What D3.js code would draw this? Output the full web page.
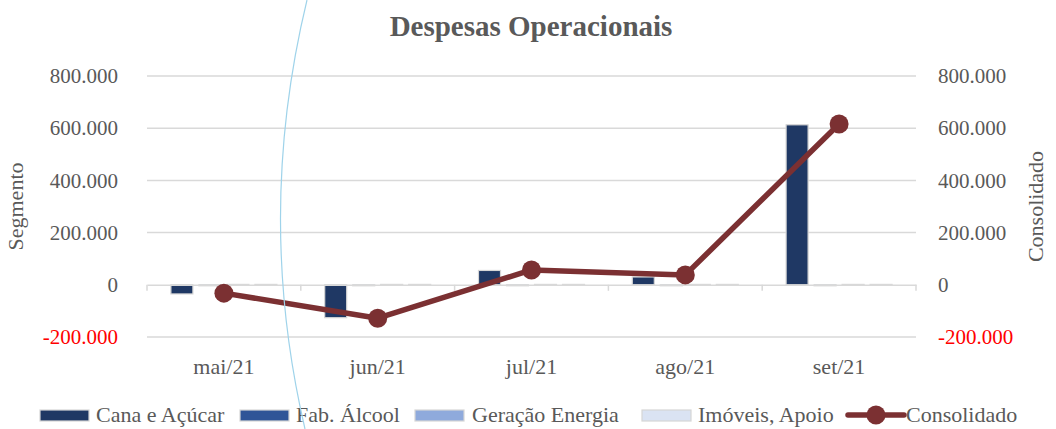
<!DOCTYPE html>
<html>
<head>
<meta charset="utf-8">
<script src="https://cdn.jsdelivr.net/npm/d3@7"></script>
<style>
  body { margin: 0; background: #fff; }
  text { font-family: "Liberation Serif", "DejaVu Serif", serif; }
</style>
</head>
<body>
<script>
// chart data
var months = ["mai/21", "jun/21", "jul/21", "ago/21", "set/21"];
var series = ["Cana e Açúcar", "Fab. Álcool", "Geração Energia", "Imóveis, Apoio"];
var canaAcucar = [-35000, -126000, 55000, 30000, 613000];
var fabAlcool = [0, 0, 0, 0, 0];
var geracaoEnergia = [1500, 1500, 1500, 1500, 1500];
var imoveisApoio = [1500, 1500, 1500, 1500, 1500];
var consolidado = [-32000, -128000, 57000, 38000, 616000];
var yTicks = [-200000, 0, 200000, 400000, 600000, 800000];

var seriesValues = [canaAcucar, fabAlcool, geracaoEnergia, imoveisApoio];
var colors = ["#1f3864", "#2f5597", "#8faadc", "#dae3f3"];
var lineColor = "#7b3032";

var W = 1056, H = 429;
var plot = {left: 147, right: 916, top: 76, bottom: 337};

var svg = d3.select("body").append("svg")
    .attr("width", W)
    .attr("height", H);

var x = d3.scaleBand().domain(months).range([plot.left, plot.right]);
var xs = d3.scaleBand().domain(series).range([-53, 53]).paddingInner(6 / 28);
var y = d3.scaleLinear().domain([-200000, 800000]).range([plot.bottom, plot.top]);

function fmt(v) {
    return d3.format(",")(v).replace(/,/g, ".").replace("\u2212", "-");
}

// title
svg.append("text")
    .attr("x", 531)
    .attr("y", 36)
    .attr("text-anchor", "middle")
    .attr("font-size", 29)
    .attr("font-weight", "bold")
    .attr("fill", "#595959")
    .text("Despesas Operacionais");

// gridlines
svg.append("g").selectAll("line")
    .data(yTicks.filter(function(d) { return d !== 0; }))
    .enter().append("line")
    .attr("x1", plot.left)
    .attr("x2", plot.right)
    .attr("y1", function(d) { return y(d); })
    .attr("y2", function(d) { return y(d); })
    .attr("stroke", "#d9d9d9")
    .attr("stroke-width", 1.5);

// left axis
var yLeft = svg.append("g")
    .attr("transform", "translate(" + plot.left + ",0)")
    .call(d3.axisLeft(y).tickValues(yTicks).tickFormat(fmt).tickSize(0).tickPadding(29));
yLeft.select(".domain").remove();
yLeft.selectAll("text")
    .attr("font-size", 21)
    .attr("font-family", "Liberation Serif")
    .attr("fill", function(d) { return d < 0 ? "#ff0000" : "#595959"; });

// right axis
var yRight = svg.append("g")
    .attr("transform", "translate(" + plot.right + ",0)")
    .call(d3.axisRight(y).tickValues(yTicks).tickFormat(fmt).tickSize(0).tickPadding(22));
yRight.select(".domain").remove();
yRight.selectAll("text")
    .attr("font-size", 21)
    .attr("font-family", "Liberation Serif")
    .attr("fill", function(d) { return d < 0 ? "#ff0000" : "#595959"; });

// axis titles
svg.append("text")
    .attr("transform", "translate(23," + ((plot.top + plot.bottom) / 2) + ") rotate(-90)")
    .attr("text-anchor", "middle")
    .attr("font-size", 22)
    .attr("fill", "#595959")
    .text("Segmento");

svg.append("text")
    .attr("transform", "translate(1043," + ((plot.top + plot.bottom) / 2) + ") rotate(-90)")
    .attr("text-anchor", "middle")
    .attr("font-size", 22)
    .attr("fill", "#595959")
    .text("Consolidado");

// bars
series.forEach(function(s, i) {
    svg.append("g").selectAll("rect")
        .data(seriesValues[i])
        .enter().append("rect")
        .attr("x", function(d, j) { return x(months[j]) + x.bandwidth() / 2 + xs(s); })
        .attr("width", xs.bandwidth())
        .attr("y", function(d) { return y(Math.max(0, d)); })
        .attr("height", function(d) { return Math.max(1, Math.abs(y(d) - y(0))); })
        .attr("fill", colors[i])
        .attr("stroke", "#d6d6d6")
        .attr("stroke-width", 1.2);
});

// category axis at zero
var xAxis = svg.append("g")
    .attr("transform", "translate(0," + y(0) + ")")
    .call(d3.axisBottom(x).tickSize(0).tickFormat(""));
xAxis.select(".domain").attr("stroke", "#d9d9d9").attr("stroke-width", 1.5);
svg.append("g").selectAll("line")
    .data(months.concat(["end"]))
    .enter().append("line")
    .attr("x1", function(d, i) { return plot.left + i * x.step(); })
    .attr("x2", function(d, i) { return plot.left + i * x.step(); })
    .attr("y1", y(0))
    .attr("y2", y(0) + 6)
    .attr("stroke", "#d9d9d9")
    .attr("stroke-width", 1.5);

svg.append("g").selectAll("text")
    .data(months)
    .enter().append("text")
    .attr("x", function(d) { return x(d) + x.bandwidth() / 2; })
    .attr("y", 374)
    .attr("text-anchor", "middle")
    .attr("font-size", 22)
    .attr("fill", "#595959")
    .text(function(d) { return d; });

// consolidated line
var line = d3.line()
    .x(function(d, i) { return x(months[i]) + x.bandwidth() / 2; })
    .y(function(d) { return y(d); });

svg.append("path")
    .datum(consolidado)
    .attr("d", line)
    .attr("fill", "none")
    .attr("stroke", lineColor)
    .attr("stroke-width", 5.5)
    .attr("stroke-linejoin", "round");

svg.append("g").selectAll("circle")
    .data(consolidado)
    .enter().append("circle")
    .attr("cx", function(d, i) { return x(months[i]) + x.bandwidth() / 2; })
    .attr("cy", function(d) { return y(d); })
    .attr("r", 9.5)
    .attr("fill", lineColor);

// legend
var legendY = 415;
var legendItems = [
    {label: series[0], sx: 40, tx: 96},
    {label: series[1], sx: 240, tx: 296},
    {label: series[2], sx: 415, tx: 472},
    {label: series[3], sx: 642, tx: 698}
];
legendItems.forEach(function(item, i) {
    svg.append("rect")
        .attr("x", item.sx)
        .attr("y", legendY - 5)
        .attr("width", 49)
        .attr("height", 11)
        .attr("fill", colors[i])
        .attr("stroke", "#d6d6d6")
        .attr("stroke-width", 1.2);
    svg.append("text")
        .attr("x", item.tx)
        .attr("y", legendY + 7)
        .attr("font-size", 22)
        .attr("fill", "#595959")
        .text(item.label);
});
svg.append("line")
    .attr("x1", 848)
    .attr("x2", 904)
    .attr("y1", legendY)
    .attr("y2", legendY)
    .attr("stroke", lineColor)
    .attr("stroke-width", 5.5)
    .attr("stroke-linecap", "round");
svg.append("circle")
    .attr("cx", 876)
    .attr("cy", legendY)
    .attr("r", 9.5)
    .attr("fill", lineColor);
svg.append("text")
    .attr("x", 906)
    .attr("y", legendY + 7)
    .attr("font-size", 22)
    .attr("fill", "#595959")
    .text("Consolidado");

// light blue arc crossing the picture
svg.append("path")
    .attr("d", "M307,0 Q255,215 305,429")
    .attr("fill", "none")
    .attr("stroke", "#9fd3ea")
    .attr("stroke-width", 1.2);
</script>
</body>
</html>
